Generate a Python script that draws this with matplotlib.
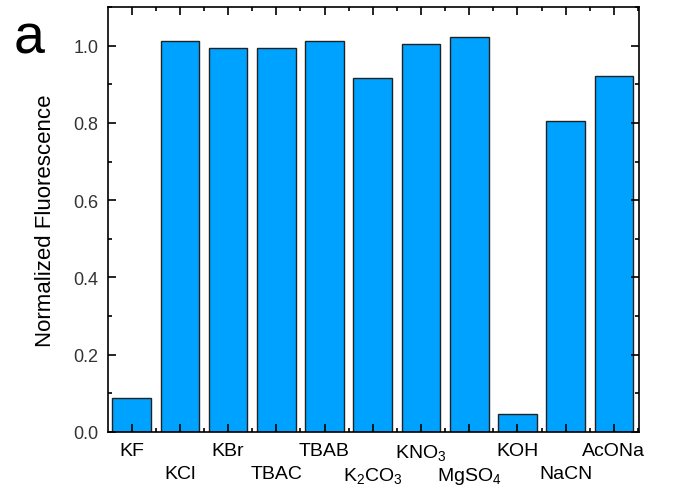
import matplotlib
matplotlib.use("Agg")
import matplotlib.pyplot as plt
from matplotlib.ticker import MultipleLocator, FixedLocator, FormatStrFormatter

plt.rcParams['font.family'] = ['Liberation Sans', 'DejaVu Sans']
plt.rcParams['mathtext.fontset'] = 'custom'
plt.rcParams['mathtext.rm'] = 'Liberation Sans'
plt.rcParams['mathtext.it'] = 'Liberation Sans:italic'
plt.rcParams['mathtext.bf'] = 'Liberation Sans:bold'

categories = ['KF', 'KCl', 'KBr', 'TBAC', 'TBAB', 'K$_2$CO$_3$', 'KNO$_3$',
              'MgSO$_4$', 'KOH', 'NaCN', 'AcONa']
values = [0.088, 1.013, 0.995, 0.995, 1.013, 0.917, 1.005, 1.023, 0.047, 0.806, 0.922]

fig = plt.figure(figsize=(6.74, 4.89), dpi=100)
ax = fig.add_axes([108 / 674, 56 / 489, 531 / 674, 425 / 489])

x = list(range(len(categories)))
ax.bar(x, values, width=0.8, color='#00a2ff', edgecolor='#222222', linewidth=1.0)

ax.set_xlim(-0.49, len(categories) - 0.48)
ax.set_ylim(0, 1.1)
ax.yaxis.set_major_locator(MultipleLocator(0.2))
ax.yaxis.set_minor_locator(MultipleLocator(0.1))
ax.yaxis.set_major_formatter(FormatStrFormatter('%.1f'))

ax.set_xticks(x)
ax.set_xticklabels(categories, fontsize=14)
ax.xaxis.set_minor_locator(FixedLocator([i + 0.5 for i in range(-1, len(categories))]))

ax.tick_params(axis='both', which='both', direction='in', top=True, right=True)
ax.tick_params(axis='x', which='major', length=6, width=1.2)
ax.tick_params(axis='x', which='minor', length=3, width=1.2)
ax.tick_params(axis='y', which='major', length=6, width=1.2, labelsize=13, pad=7)
ax.tick_params(axis='y', which='minor', length=3, width=1.2)
ax.tick_params(axis='y', labelcolor='#333333')

for i, t in enumerate(ax.xaxis.get_major_ticks()):
    t.set_pad(24 if i % 2 == 1 else 7)

for s in ax.spines.values():
    s.set_linewidth(1.2)

ax.set_ylabel('Normalized Fluorescence', fontsize=16, labelpad=12)
fig.text(0.02, 0.89, 'a', fontsize=40)

fig.savefig('out.png', dpi=100)
